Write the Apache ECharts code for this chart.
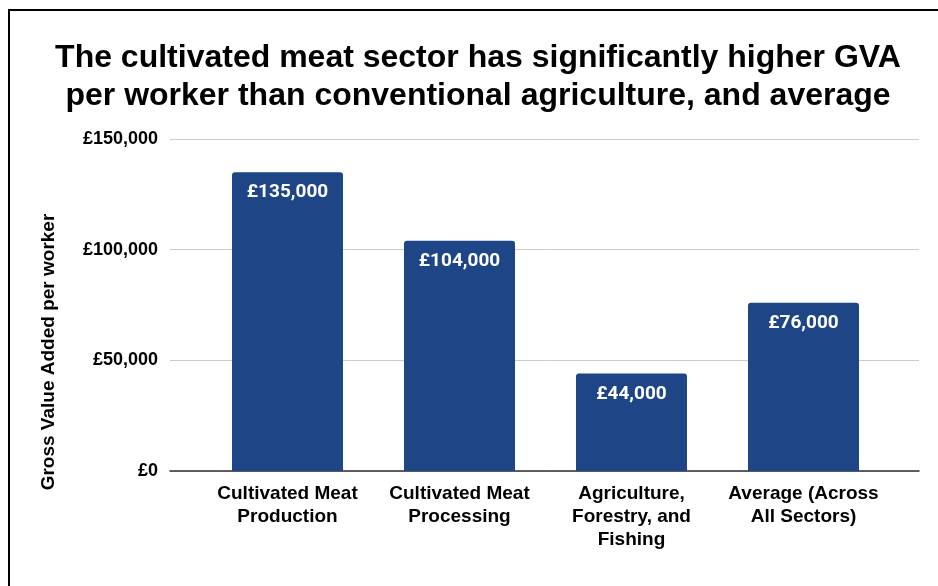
<!DOCTYPE html>
<html><head><meta charset="utf-8">
<script src="https://cdn.jsdelivr.net/npm/echarts@6/dist/echarts.min.js"></script>
<style>
html,body{margin:0;padding:0;background:#fff;}
#c{width:938px;height:586px;position:absolute;left:0;top:0;}
#frame{position:absolute;left:8px;top:9px;width:1000px;height:700px;border-left:2px solid #000;border-top:2px solid #000;pointer-events:none;}
</style></head>
<body>
<div id="c"></div>
<div id="frame"></div>
<script>
const categories = ["Cultivated Meat\nProduction", "Cultivated Meat\nProcessing", "Agriculture,\nForestry, and\nFishing", "Average (Across\nAll Sectors)"];
const values = [135000, 104000, 44000, 76000];
const yTicks = [0, 50000, 100000, 150000];
const titleText = "The cultivated meat sector has significantly higher GVA\nper worker than conventional agriculture, and average";
const yAxisTitle = "Gross Value Added per worker";

const fmt = v => "£" + v.toLocaleString("en-GB");
const chart = echarts.init(document.getElementById('c'));
const gTop = 139, gBottom = 586 - 471;
chart.setOption({
  animation: false,
  graphic: [{
    type: 'text',
    x: 478, y: 77,
    style: {text: titleText, fontFamily: 'Liberation Sans', fontWeight: 'bold', fontSize: 32, fill: '#000', lineHeight: 38, align: 'center', verticalAlign: 'middle'}
  }, {
    type: 'text',
    x: 49, y: 352, rotation: Math.PI/2,
    style: {text: yAxisTitle, fontFamily: 'Liberation Sans', fontWeight: 'bold', fontSize: 19, fill: '#000', align: 'center', verticalAlign: 'middle'}
  }],
  grid: [
    {left: 170, right: 19, top: gTop, bottom: gBottom},
    {left: 201.5, width: 688, top: gTop, bottom: gBottom}
  ],
  xAxis: [
    {gridIndex: 0, type: 'value', min: 0, max: 1, show: true, axisLine: {show: true, onZero: false, lineStyle: {color: '#333', width: 1.5}}, axisLabel: {show: false}, axisTick: {show: false}, splitLine: {show: false}},
    {gridIndex: 1, type: 'category', data: categories, axisLine: {show: false}, axisTick: {show: false},
     axisLabel: {interval: 0, margin: 11, fontFamily: 'Liberation Sans', fontWeight: 'bold', fontSize: 19, color: '#000', lineHeight: 23}}
  ],
  yAxis: [
    {gridIndex: 0, type: 'value', min: 0, max: 150000, interval: 50000,
     axisLine: {show: false}, axisTick: {show: false},
     axisLabel: {margin: 12, formatter: v => fmt(v), fontFamily: 'Liberation Sans', fontWeight: 'bold', fontSize: 18, color: '#000'},
     splitLine: {lineStyle: {color: '#cccccc', width: 1}}},
    {gridIndex: 1, type: 'value', min: 0, max: 150000, interval: 50000, show: false, splitLine: {show: false}}
  ],
  series: [{
    type: 'bar', xAxisIndex: 1, yAxisIndex: 1, data: values, barWidth: 111,
    itemStyle: {color: '#1e4586', borderRadius: [3,3,0,0]},
    label: {show: true, position: 'insideTop', distance: 11, formatter: p => fmt(p.value),
      fontFamily: 'Roboto', fontWeight: 'bold', fontSize: 19, color: '#fff'}
  }]
});
</script>
</body></html>
